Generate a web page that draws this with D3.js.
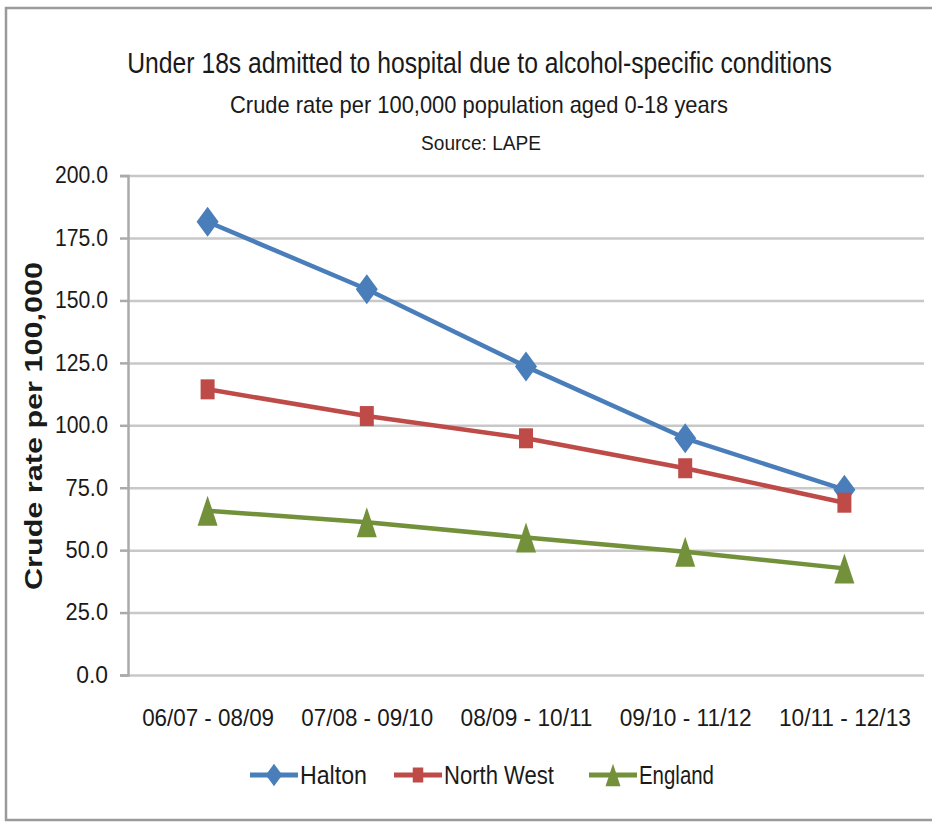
<!DOCTYPE html>
<html>
<head>
<meta charset="utf-8">
<script src="https://cdn.jsdelivr.net/npm/d3@7"></script>
<style>
  body { margin: 0; background: #fff; }
  text { font-family: "Liberation Sans Narrow", "Liberation Sans", Arial, sans-serif; fill: #1a1a1a; }
</style>
</head>
<body>
<svg id="chart" width="932" height="823"></svg>
<script>
// periods on the x axis
const periods = ["06/07 - 08/09", "07/08 - 09/10", "08/09 - 10/11", "09/10 - 11/12", "10/11 - 12/13"];
// crude rate per 100,000
const halton = [181.5, 154.5, 123.5, 94.8, 74.2];
const northWest = [114.4, 103.7, 94.8, 82.8, 69.0];
const england = [65.8, 61.2, 55.1, 49.4, 42.7];
const seriesNames = ["Halton", "North West", "England"];
const yTicks = [0, 25, 50, 75, 100, 125, 150, 175, 200];

const colors = { "Halton": "#4A7EBB", "North West": "#BE4B48", "England": "#72913A" };

// marker outlines, centred on (0,0)
const markers = {
  "Halton": "M0,-15L11,0L0,15L-11,0Z",
  "North West": "M-7,-10H7V10H-7Z",
  "England": "M0,-15L10,15H-10Z"
};

const svg = d3.select("#chart");
const plot = { left: 128, right: 924, top: 175.6, bottom: 675 };

// squeeze a text horizontally around its anchor point so it is `width` wide
// (the reference uses a condensed face we do not have)
function condense(sel, width, ax, ay) {
  sel.each(function() {
    const w = this.getComputedTextLength();
    const k = width / w;
    d3.select(this).attr("transform",
      `translate(${ax},${ay}) scale(${k},1) translate(${-ax},${-ay})`);
  });
}

// outer frame of the chart
svg.append("rect")
  .attr("x", 6).attr("y", 8)
  .attr("width", 940).attr("height", 812)
  .attr("fill", "none")
  .attr("stroke", "#9a9a9a")
  .attr("stroke-width", 2.5);

const x = d3.scalePoint()
  .domain(periods)
  .range([plot.left, plot.right])
  .padding(0.5);

const y = d3.scaleLinear()
  .domain([0, 200])
  .range([plot.bottom, plot.top]);

// gridlines
const grid = svg.append("g")
  .attr("transform", `translate(${plot.left},0)`)
  .call(d3.axisLeft(y).tickValues(yTicks).tickSize(-(plot.right - plot.left)).tickFormat(""));
grid.select(".domain").remove();
grid.selectAll("line").attr("stroke", "#c8c8c8").attr("stroke-width", 2.5);

// y axis with labels
const yAxis = svg.append("g")
  .attr("transform", `translate(${plot.left},0)`)
  .call(d3.axisLeft(y).tickValues(yTicks).tickSize(8).tickPadding(12).tickFormat(d3.format(".1f")));
yAxis.select(".domain").attr("stroke", "#aaaaaa").attr("stroke-width", 2.5);
yAxis.selectAll(".tick line").attr("stroke", "#aaaaaa").attr("stroke-width", 2.5);
yAxis.selectAll(".tick text")
  .attr("font-size", 23)
  .attr("fill", "#333")
  .each(function() {
    const t = d3.select(this);
    condense(t, this.textContent.length * 10.6, +t.attr("x"), 0);
  });

// x axis labels
const xAxis = svg.append("g")
  .attr("transform", `translate(0,${plot.bottom})`)
  .call(d3.axisBottom(x).tickSize(0).tickPadding(34));
xAxis.select(".domain").remove();
xAxis.selectAll(".tick text")
  .attr("font-size", 24)
  .attr("fill", "#1a1a1a")
  .each(function() { condense(d3.select(this), 132, 0, 0); });

// series
const seriesData = [halton, northWest, england];
const line = d3.line()
  .x((d, i) => x(periods[i]))
  .y(d => y(d));

seriesNames.forEach((name, s) => {
  const g = svg.append("g");
  g.append("path")
    .datum(seriesData[s])
    .attr("d", line)
    .attr("fill", "none")
    .attr("stroke", colors[name])
    .attr("stroke-width", 4.5)
    .attr("stroke-linejoin", "round");
  g.selectAll("path.marker")
    .data(seriesData[s])
    .enter().append("path")
    .attr("class", "marker")
    .attr("d", markers[name])
    .attr("transform", (d, i) => `translate(${x(periods[i])},${y(d)})`)
    .attr("fill", colors[name]);
});

// titles
const title = svg.append("text")
  .attr("x", 479.5).attr("y", 73)
  .attr("text-anchor", "middle")
  .attr("font-size", 30)
  .text("Under 18s admitted to hospital due to alcohol-specific conditions");
condense(title, 705, 479.5, 73);

const subtitle = svg.append("text")
  .attr("x", 479).attr("y", 113)
  .attr("text-anchor", "middle")
  .attr("font-size", 24)
  .text("Crude rate per 100,000 population aged 0-18 years");
condense(subtitle, 498, 479, 113);

const source = svg.append("text")
  .attr("x", 481).attr("y", 150)
  .attr("text-anchor", "middle")
  .attr("font-size", 20)
  .text("Source: LAPE");
condense(source, 120, 481, 150);

// y axis title
svg.append("text")
  .attr("transform", "translate(42,426) rotate(-90)")
  .attr("text-anchor", "middle")
  .attr("font-size", 23)
  .attr("font-weight", "bold")
  .attr("textLength", 328)
  .attr("lengthAdjust", "spacingAndGlyphs")
  .style("font-family", "'Liberation Sans', Arial, sans-serif")
  .text("Crude rate per 100,000");

// legend
const legendItems = [
  { name: "Halton", x: 250, w: 67 },
  { name: "North West", x: 394, w: 110 },
  { name: "England", x: 589, w: 75 }
];
const legend = svg.append("g").attr("transform", "translate(0,775)");
legendItems.forEach(item => {
  const g = legend.append("g").attr("transform", `translate(${item.x},0)`);
  g.append("line")
    .attr("x1", 0).attr("x2", 48)
    .attr("stroke", colors[item.name])
    .attr("stroke-width", 5);
  g.append("path")
    .attr("d", markers[item.name])
    .attr("transform", "translate(24,0) scale(0.75)")
    .attr("fill", colors[item.name]);
  const t = g.append("text")
    .attr("x", 50).attr("y", 9)
    .attr("font-size", 26)
    .text(item.name);
  condense(t, item.w, 50, 9);
});
</script>
</body>
</html>
